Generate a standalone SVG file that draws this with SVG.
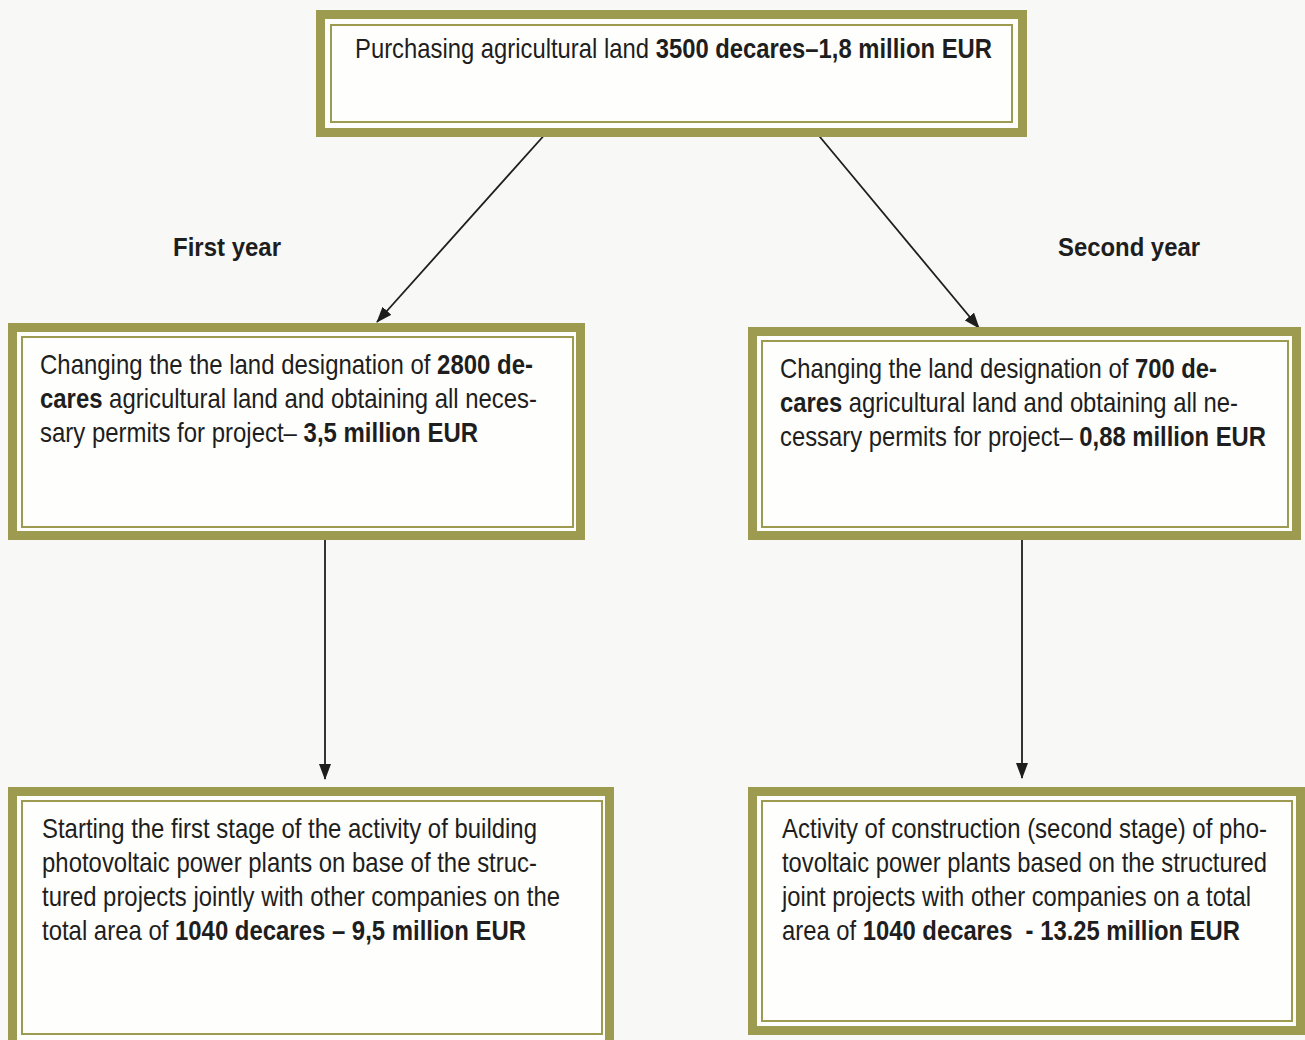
<svg xmlns="http://www.w3.org/2000/svg" width="1305" height="1040" viewBox="0 0 1305 1040">
<defs>
<style>
.bg{fill:#f8f8f6}
.outer{fill:#fefefc;stroke:#9c9b50;stroke-width:9}
.inner{fill:none;stroke:#9c9b50;stroke-width:2}
.t{font-family:"Liberation Sans",Arial,sans-serif;font-size:28px;fill:#1e1e1e}
.b{font-weight:bold}
.lbl{font-family:"Liberation Sans",Arial,sans-serif;font-size:25px;font-weight:bold;fill:#1e1e1e}
.edge{stroke:#1e1e1e;stroke-width:1.8;fill:none;marker-end:url(#arr)}
</style>
<marker id="arr" viewBox="0 0 16 12" refX="15" refY="6" markerWidth="16" markerHeight="12" markerUnits="userSpaceOnUse" orient="auto">
<path d="M0,0 L16,6 L0,12 z" fill="#1e1e1e"/>
</marker>
</defs>
<rect class="bg" x="0" y="0" width="1305" height="1040"/>

<g id="connectors">
<line class="edge" x1="548" y1="131" x2="377" y2="322"/>
<line class="edge" x1="815" y1="131" x2="979" y2="328"/>
<line class="edge" x1="325" y1="536" x2="325" y2="779"/>
<line class="edge" x1="1022" y1="536" x2="1022" y2="778"/>
</g>

<g id="n_purchase">
<rect class="outer" x="320.5" y="14.5" width="702" height="118"/>
<rect class="inner" x="331" y="25" width="681" height="97"/>
<text class="t" x="355" y="58" font-size="28" textLength="637" lengthAdjust="spacingAndGlyphs">Purchasing agricultural land <tspan class="b">3500 decares–1,8 million EUR</tspan></text>
</g>

<g id="lbl_first"><text class="lbl" x="173" y="256" textLength="108" lengthAdjust="spacingAndGlyphs">First year</text></g>
<g id="lbl_second"><text class="lbl" x="1058" y="256" textLength="142" lengthAdjust="spacingAndGlyphs">Second year</text></g>

<g id="n_change1">
<rect class="outer" x="12.5" y="327.5" width="568" height="208"/>
<rect class="inner" x="22" y="337" width="551" height="190"/>
<text class="t" x="40" y="374" textLength="493" lengthAdjust="spacingAndGlyphs">Changing the the land designation of <tspan class="b">2800 de-</tspan></text>
<text class="t" x="40" y="408" textLength="497" lengthAdjust="spacingAndGlyphs"><tspan class="b">cares</tspan> agricultural land and obtaining all neces-</text>
<text class="t" x="40" y="442" textLength="438" lengthAdjust="spacingAndGlyphs">sary permits for project– <tspan class="b">3,5 million EUR</tspan></text>
</g>

<g id="n_change2">
<rect class="outer" x="752.5" y="331.5" width="544" height="204"/>
<rect class="inner" x="762" y="341" width="526" height="186"/>
<text class="t" x="780" y="378" textLength="437" lengthAdjust="spacingAndGlyphs">Changing the land designation of <tspan class="b">700 de-</tspan></text>
<text class="t" x="780" y="412" textLength="458" lengthAdjust="spacingAndGlyphs"><tspan class="b">cares</tspan> agricultural land and obtaining all ne-</text>
<text class="t" x="780" y="446" textLength="486" lengthAdjust="spacingAndGlyphs">cessary permits for project– <tspan class="b">0,88 million EUR</tspan></text>
</g>

<g id="n_build1">
<rect class="outer" x="12.5" y="791.5" width="597" height="260"/>
<rect class="inner" x="22" y="801" width="580" height="233"/>
<text class="t" x="42" y="838" textLength="495" lengthAdjust="spacingAndGlyphs">Starting the first stage of the activity of building</text>
<text class="t" x="42" y="872" textLength="495" lengthAdjust="spacingAndGlyphs">photovoltaic power plants on base of the struc-</text>
<text class="t" x="42" y="906" textLength="518" lengthAdjust="spacingAndGlyphs">tured projects jointly with other companies on the</text>
<text class="t" x="42" y="940" textLength="484" lengthAdjust="spacingAndGlyphs">total area of <tspan class="b">1040 decares – 9,5 million EUR</tspan></text>
</g>

<g id="n_build2">
<rect class="outer" x="752.5" y="791.5" width="548" height="239"/>
<rect class="inner" x="762" y="801" width="530" height="220"/>
<text class="t" x="782" y="838" textLength="485" lengthAdjust="spacingAndGlyphs">Activity of construction (second stage) of pho-</text>
<text class="t" x="782" y="872" textLength="485" lengthAdjust="spacingAndGlyphs">tovoltaic power plants based on the structured</text>
<text class="t" x="782" y="906" textLength="469" lengthAdjust="spacingAndGlyphs">joint projects with other companies on a total</text>
<text class="t" x="782" y="940" textLength="458" lengthAdjust="spacingAndGlyphs" xml:space="preserve">area of <tspan class="b">1040 decares  - 13.25 million EUR</tspan></text>
</g>
</svg>
